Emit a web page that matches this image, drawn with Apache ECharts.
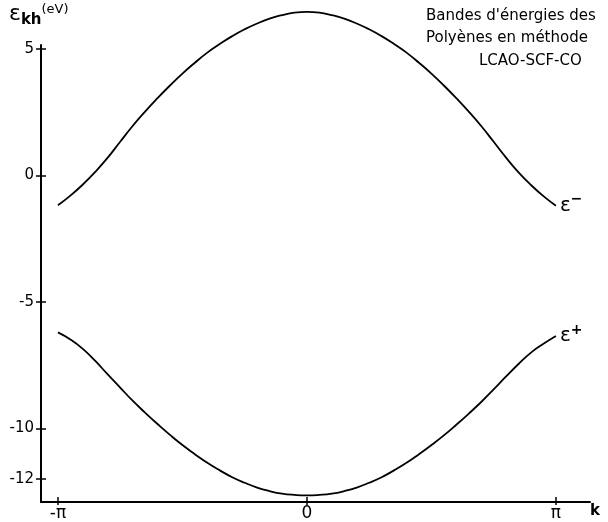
<!DOCTYPE html>
<html>
<head>
<meta charset="utf-8">
<script src="https://cdn.jsdelivr.net/npm/echarts@6/dist/echarts.min.js"></script>
<style>
  html, body { margin: 0; padding: 0; background: #fff; }
  #chart { width: 608px; height: 522px; }
</style>
</head>
<body>
<div id="chart"></div>
<script>
// k in units of pi, step 0.05
const kPts = [-1, -0.95, -0.9, -0.85, -0.8, -0.75, -0.7, -0.65, -0.6, -0.55, -0.5,
  -0.45, -0.4, -0.35, -0.3, -0.25, -0.2, -0.15, -0.1, -0.05, 0,
  0.05, 0.1, 0.15, 0.2, 0.25, 0.3, 0.35, 0.4, 0.45, 0.5,
  0.55, 0.6, 0.65, 0.7, 0.75, 0.8, 0.85, 0.9, 0.95, 1]
// upper band E- (eV)
const eMinus = [-1.18, -0.8, -0.36, 0.14, 0.7, 1.33, 1.95, 2.52, 3.05, 3.55, 4.02,
  4.45, 4.85, 5.19, 5.5, 5.77, 6.0, 6.19, 6.33, 6.43, 6.46,
  6.43, 6.33, 6.19, 6.0, 5.77, 5.5, 5.19, 4.85, 4.45, 4.02,
  3.55, 3.05, 2.52, 1.95, 1.33, 0.7, 0.12, -0.38, -0.82, -1.2]
// lower band E+ (eV)
const ePlus = [-6.2, -6.48, -6.85, -7.33, -7.86, -8.38, -8.9, -9.37, -9.82, -10.25, -10.65,
  -11.01, -11.35, -11.65, -11.92, -12.14, -12.33, -12.47, -12.57, -12.62, -12.64,
  -12.62, -12.57, -12.47, -12.33, -12.14, -11.92, -11.65, -11.35, -11.01, -10.65,
  -10.27, -9.85, -9.41, -8.95, -8.45, -7.94, -7.45, -7.0, -6.65, -6.34]
const xTicks = [-1, 0, 1]
const xTickLabels = ['-π', '0', 'π']
const yTicks = [5, 0, -5, -10, -12]

const font = 'DejaVu Sans'
const chart = echarts.init(document.getElementById('chart'))

const lineSeries = (name, vals, sup) => ({
  name,
  type: 'line',
  data: kPts.map((k, i) => [k, vals[i]]),
  smooth: 0.5,
  symbol: 'none',
  clip: false,
  lineStyle: { color: '#000', width: 1.8 },
  endLabel: {
    show: true,
    distance: 4,
    formatter: () => '{e|ε}{s|' + sup + '}',
    rich: {
      e: { fontFamily: font, fontSize: 20, color: '#000' },
      s: { fontFamily: font, fontSize: 14, fontWeight: 'bold', color: '#000', verticalAlign: 'top', padding: [0, 0, 12, 0] },
    },
  },
})

const tickStyle = { color: '#000', width: 1.5 }
const xBase = {
  type: 'value',
  min: -1.068,
  max: 1.137,
  splitLine: { show: false },
}
const yBase = {
  type: 'value',
  min: -12.9,
  max: 5.15,
  splitLine: { show: false },
}

chart.setOption({
  animation: false,
  backgroundColor: '#fff',
  grid: { left: 41, right: 18, top: 45, bottom: 19 },
  xAxis: [
    {
      ...xBase,
      axisLine: { onZero: false, lineStyle: { color: '#000', width: 2 } },
      axisTick: { customValues: xTicks, inside: true, length: 5, lineStyle: tickStyle },
      axisLabel: {
        customValues: xTicks,
        formatter: (v) => xTickLabels[xTicks.indexOf(v)],
        fontFamily: font,
        fontSize: 17,
        color: '#000',
        margin: 3,
      },
    },
    {
      ...xBase,
      position: 'bottom',
      axisLine: { show: false, onZero: false },
      axisTick: { customValues: xTicks, length: 3, lineStyle: tickStyle },
      axisLabel: { show: false },
    },
  ],
  yAxis: [
    {
      ...yBase,
      axisLine: { onZero: false, lineStyle: { color: '#000', width: 2 } },
      axisTick: { customValues: yTicks, length: 5, lineStyle: tickStyle },
      axisLabel: {
        customValues: yTicks,
        fontFamily: font,
        fontSize: 15,
        color: '#000',
        margin: 7,
      },
    },
    {
      ...yBase,
      position: 'left',
      axisLine: { show: false, onZero: false },
      axisTick: { customValues: yTicks, inside: true, length: 5, lineStyle: tickStyle },
      axisLabel: { show: false },
    },
  ],
  graphic: [
    {
      type: 'text',
      left: 9,
      top: 3,
      style: {
        text: '{e|ε}{k|kh}{u|(eV)}',
        rich: {
          e: { fontFamily: font, fontSize: 22, fill: '#000' },
          k: { fontFamily: font, fontSize: 15, fontWeight: 'bold', fill: '#000', padding: [12, 0, 0, 0] },
          u: { fontFamily: font, fontSize: 13, fill: '#000', padding: [0, 0, 8, 0] },
        },
      },
    },
    { type: 'text', left: 426, top: 9, style: { text: "Bandes d'énergies des", font: '15px "DejaVu Sans"', fill: '#000' } },
    { type: 'text', left: 426, top: 31, style: { text: 'Polyènes en méthode', font: '15px "DejaVu Sans"', fill: '#000' } },
    { type: 'text', left: 479, top: 54, style: { text: 'LCAO-SCF-CO', font: '15px "DejaVu Sans"', fill: '#000' } },
    { type: 'text', left: 590, top: 504, style: { text: 'k', font: 'bold 15px "DejaVu Sans"', fill: '#000' } },
  ],
  series: [lineSeries('E-', eMinus, '−'), lineSeries('E+', ePlus, '+')],
})
</script>
</body>
</html>
